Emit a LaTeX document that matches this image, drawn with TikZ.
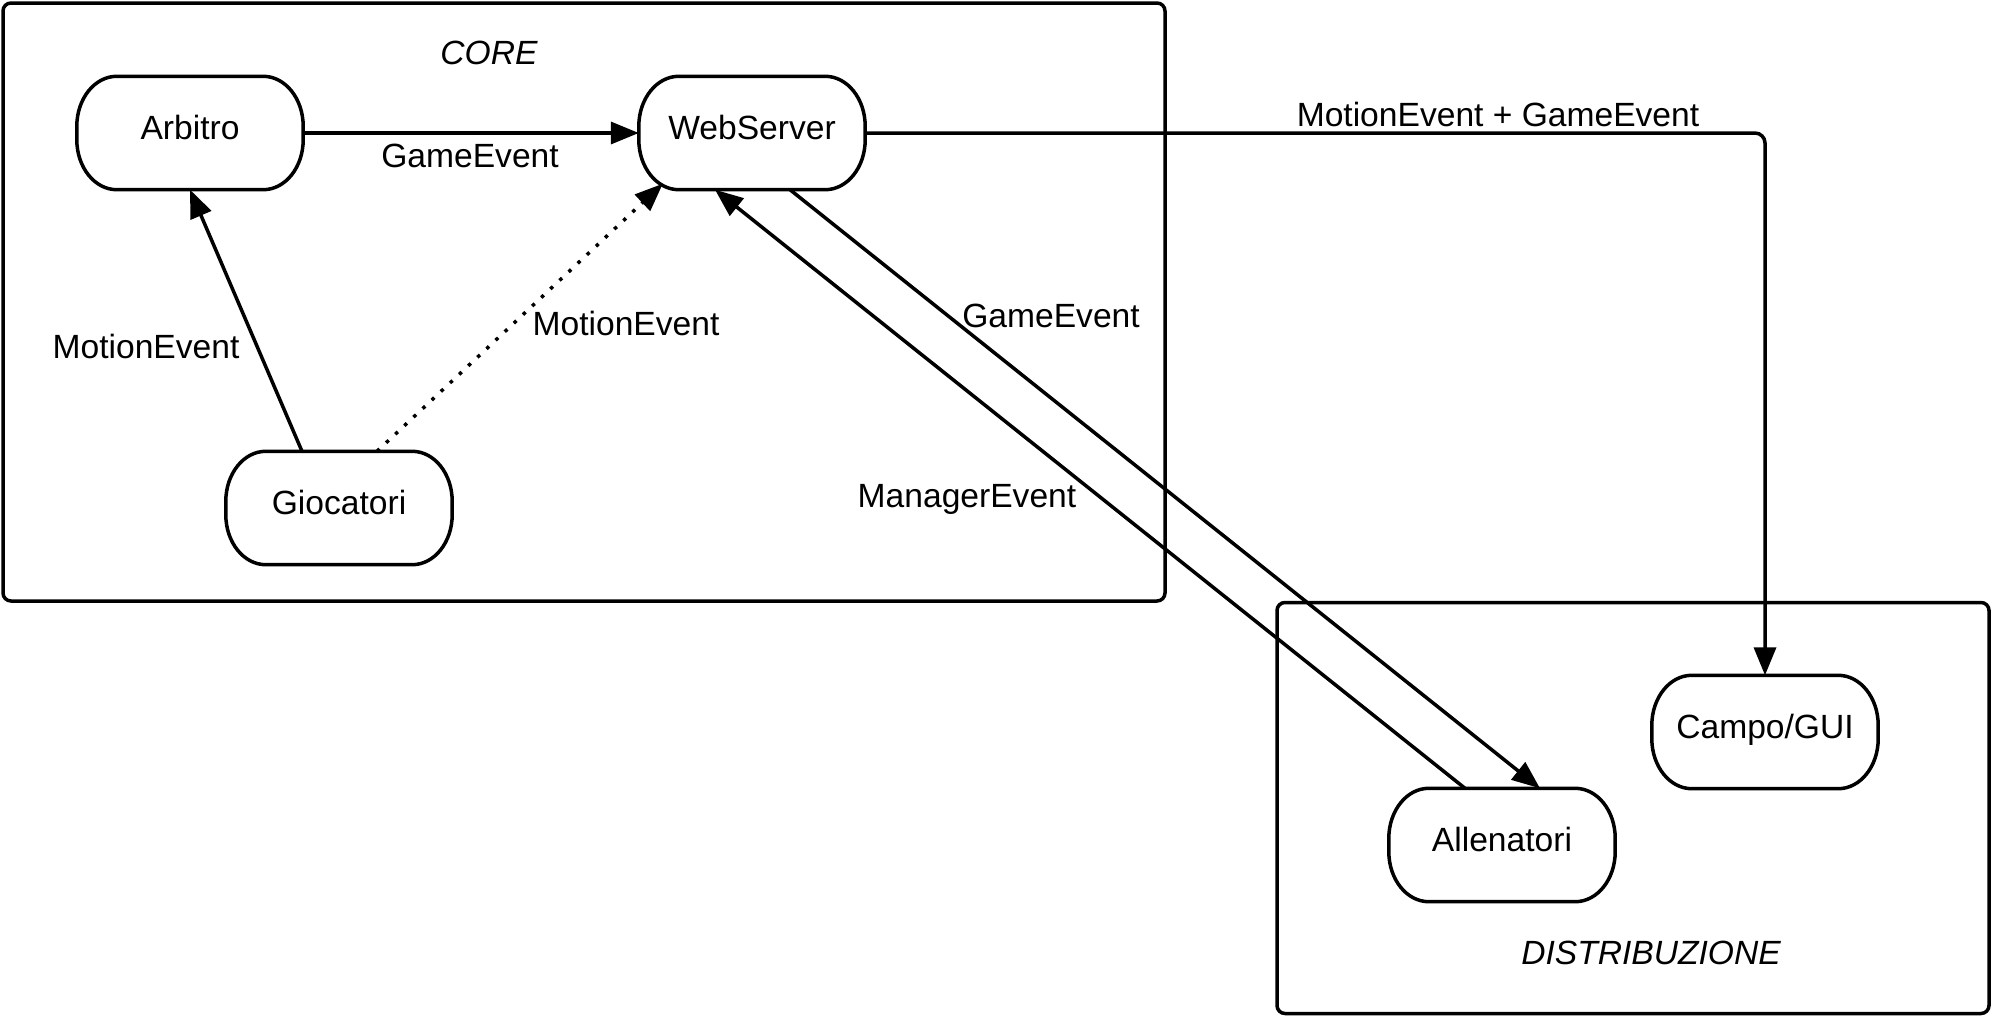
\documentclass[tikz,border=0pt]{standalone}
\usepackage{fontspec}
\setmainfont{Liberation Sans}
\usetikzlibrary{arrows.meta,calc}
\begin{document}
\begin{tikzpicture}[x=1pt,y=-1pt,
  every node/.style={font=\fontsize{33.6}{40}\selectfont},
  lane/.style={draw, line width=3.5pt, rounded corners=8pt, inner sep=0pt},
  proc/.style={minimum width=226pt, minimum height=113pt, text height=24pt, text depth=12pt, inner sep=0pt},
  pill/.style={line width=3.5pt},
  flow/.style={line width=3.5pt, -{Triangle[length=28pt,width=22pt]}},
  lbl/.style={anchor=base, inner sep=0pt},
  ttl/.style={anchor=base, inner sep=0pt, font=\fontsize{33.6}{40}\selectfont\itshape}
]
\useasboundingbox (0,0) rectangle (1992,1017);
% containers
\node[lane, minimum width=1162pt, minimum height=598pt] (core) at (584,302) {};
\node[lane, minimum width=712pt, minimum height=411pt] (distr) at (1633,808) {};
\node[ttl] (coreT) at (489,64) {CORE};
\node[ttl] (distrT) at (1651,964) {DISTRIBUZIONE};
% processes
\node[proc] (arb) at (190,133) {Arbitro};
\node[proc] (web) at (752,133) {WebServer};
\node[proc] (gio) at (339,508) {Giocatori};
\node[proc] (campo) at (1765,732) {Campo/GUI};
\node[proc] (all) at (1502,845) {Allenatori};
\foreach \n in {arb,web,gio,campo,all}{
  \draw[pill] ($(\n.north west)+(40,0)$) -- ($(\n.north east)+(-40,0)$)
    arc[start angle=-90, end angle=0, x radius=40, y radius=50]
    -- ($(\n.south east)+(0,-50)$)
    arc[start angle=0, end angle=90, x radius=40, y radius=50]
    -- ($(\n.south west)+(40,0)$)
    arc[start angle=90, end angle=180, x radius=40, y radius=50]
    -- ($(\n.north west)+(0,50)$)
    arc[start angle=180, end angle=270, x radius=40, y radius=50] -- cycle;
}
% connectors
\draw[flow] (arb.east) -- (web.west);
\draw[flow] ($(gio.north)+(-37,0)$) -- (arb.south);
\draw[flow, dash pattern=on 3.5pt off 9pt] ($(gio.north)+(38,0)$) -- ($(web.south west)+(24,-6)$);
\draw[flow] ($(web.south)+(38,0)$) -- ($(all.north)+(38,0)$);
\draw[flow] ($(all.north)+(-37,0)$) -- ($(web.south)+(-37,0)$);
\draw[flow, rounded corners=10pt] (web.east) -- (web.east -| campo.north) -- (campo.north);
% labels
\node[lbl] (l1) at (470,167) {GameEvent};
\node[lbl] (l2) at (146,358) {MotionEvent};
\node[lbl] (l3) at (626,335) {MotionEvent};
\node[lbl] (l4) at (1051,327) {GameEvent};
\node[lbl] (l5) at (967,507) {ManagerEvent};
\node[lbl] (l6) at (1498,126) {MotionEvent + GameEvent};
\end{tikzpicture}
\end{document}
